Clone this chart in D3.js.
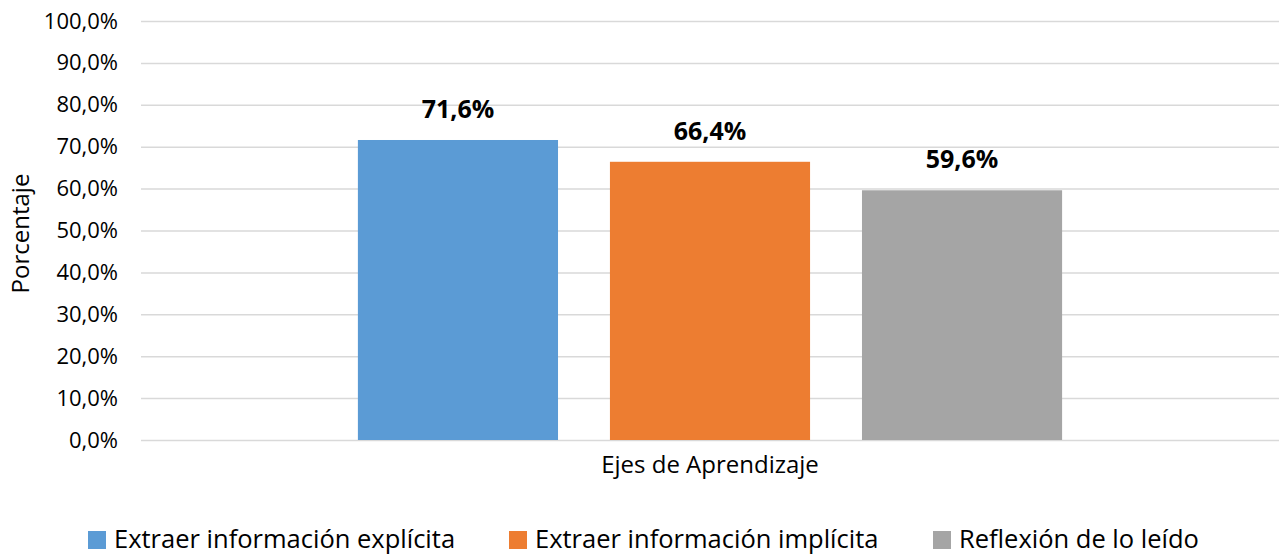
<!DOCTYPE html>
<html>
<head>
<meta charset="utf-8">
<script src="https://cdn.jsdelivr.net/npm/d3@7"></script>
<style>
  body { margin: 0; background: #fff; }
  text { font-family: "Open Sans", sans-serif; fill: #000; }
</style>
</head>
<body>
<div class="chart"></div>
<script>
var svgWidth = 1279;
var svgHeight = 555;

// data
var category = "Ejes de Aprendizaje";
var series = ["Extraer información explícita", "Extraer información implícita", "Reflexión de lo leído"];
var values = [71.6, 66.4, 59.6];
var colors = ["#5b9bd5", "#ed7d31", "#a5a5a5"];
var yTicks = [0, 10, 20, 30, 40, 50, 60, 70, 80, 90, 100];

var margin = { top: 21, right: 0, bottom: 115, left: 141 };
var width = svgWidth - margin.left - margin.right;
var height = svgHeight - margin.top - margin.bottom;

var svg = d3.select(".chart")
  .append("svg")
  .attr("width", svgWidth)
  .attr("height", svgHeight);

var chartGroup = svg.append("g")
  .attr("transform", `translate(${margin.left}, ${margin.top})`);

var x0 = d3.scaleBand()
  .domain([category])
  .range([0, width])
  .paddingInner(0)
  .paddingOuter(0.308);

var x1 = d3.scaleBand()
  .domain(series)
  .range([0, x0.bandwidth()])
  .paddingInner(0.206);

var y = d3.scaleLinear()
  .domain([0, 100])
  .range([height, 0]);

var fmt = d => d.toFixed(1).replace(".", ",") + "%";

// gridlines
chartGroup.selectAll(".grid")
  .data(yTicks)
  .enter()
  .append("line")
  .attr("x1", 0)
  .attr("x2", width)
  .attr("y1", d => y(d) + 0.5)
  .attr("y2", d => y(d) + 0.5)
  .attr("stroke", "#d9d9d9")
  .attr("stroke-width", 1.5);

// y axis
var leftAxis = d3.axisLeft(y)
  .tickValues(yTicks)
  .tickSize(0)
  .tickPadding(23)
  .tickFormat(fmt);

var yAxis = chartGroup.append("g").call(leftAxis);
yAxis.select(".domain").remove();
yAxis.selectAll("text")
  .attr("font-family", "Open Sans, sans-serif")
  .attr("font-size", "22px")
  .attr("fill", "#262626");

// bars
chartGroup.selectAll(".bar")
  .data(values)
  .enter()
  .append("rect")
  .attr("x", (d, i) => x0(category) + x1(series[i]))
  .attr("y", d => y(d))
  .attr("width", x1.bandwidth())
  .attr("height", d => height - y(d))
  .attr("fill", (d, i) => colors[i]);

// value labels
chartGroup.selectAll(".lbl")
  .data(values)
  .enter()
  .append("text")
  .attr("x", (d, i) => x0(category) + x1(series[i]) + x1.bandwidth() / 2)
  .attr("y", d => y(d) - 22)
  .attr("text-anchor", "middle")
  .attr("font-size", "25px")
  .attr("font-weight", "bold")
  .text(fmt);

// axis titles
chartGroup.append("text")
  .attr("transform", "rotate(-90)")
  .attr("x", -height / 2 - 3)
  .attr("y", -margin.left + 29)
  .attr("text-anchor", "middle")
  .attr("font-size", "24px")
  .text("Porcentaje");

chartGroup.append("text")
  .attr("x", x0(category) + x0.bandwidth() / 2)
  .attr("y", height + 33)
  .attr("text-anchor", "middle")
  .attr("font-size", "24px")
  .text(category);

// legend
var legendX = [88, 509, 933];
var legend = svg.selectAll(".legend")
  .data(series)
  .enter()
  .append("g")
  .attr("transform", (d, i) => `translate(${legendX[i]}, 531)`);

legend.append("rect")
  .attr("width", 18)
  .attr("height", 18)
  .attr("fill", (d, i) => colors[i]);

legend.append("text")
  .attr("x", 26)
  .attr("y", 17)
  .attr("font-size", "25.5px")
  .text(d => d);
</script>
</body>
</html>
